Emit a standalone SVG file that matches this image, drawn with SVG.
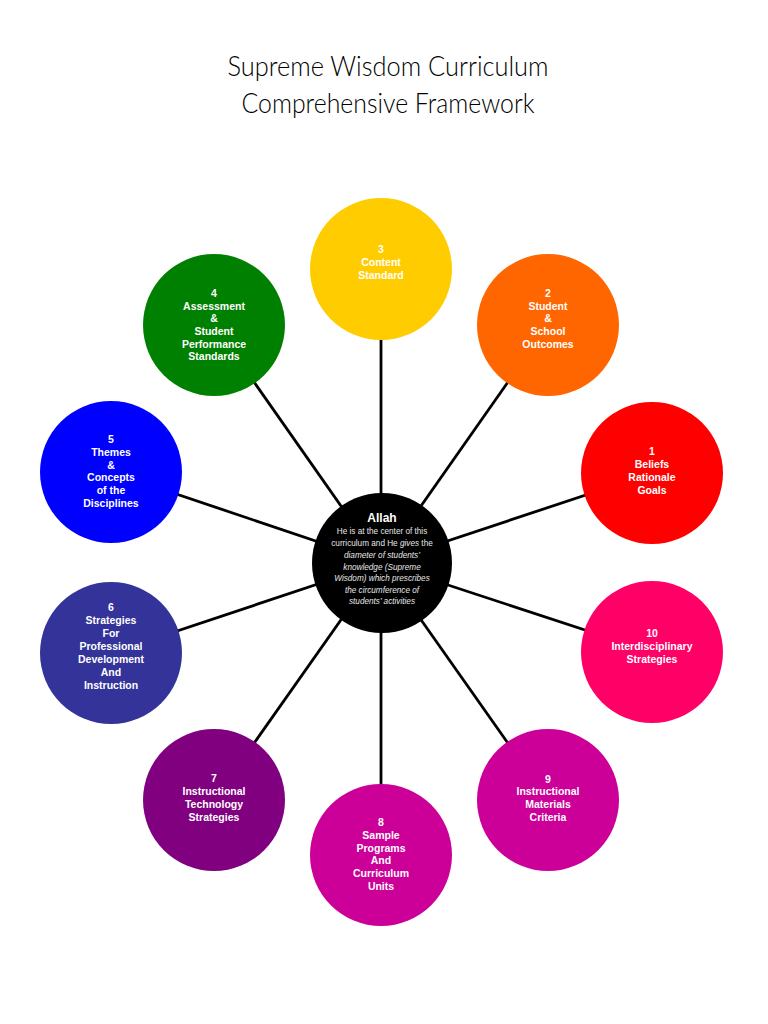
<svg xmlns="http://www.w3.org/2000/svg" width="768" height="1024" viewBox="0 0 768 1024">
<style>
.title{font-family:"Lato","Open Sans",sans-serif;font-weight:300;font-size:28px;fill:#000}
.n{font-family:"Liberation Sans Narrow","Liberation Sans",Arial,sans-serif;font-weight:bold;font-size:10.5px;fill:#fff;text-anchor:middle}
.c{font-family:"Liberation Sans",Arial,sans-serif;font-size:8.2px;fill:#e6e6e6;text-anchor:middle}
.ca{font-family:"Liberation Sans Narrow","Liberation Sans",Arial,sans-serif;font-weight:bold;font-size:12px;fill:#fff;text-anchor:middle}
.i{font-style:italic}
.conn line{stroke:#000;stroke-width:2.8}
</style>
<rect width="768" height="1024" fill="#fff"/>
<g id="title">
<text class="title" x="388" y="76" textLength="321" lengthAdjust="spacingAndGlyphs" text-anchor="middle">Supreme Wisdom Curriculum</text>
<text class="title" x="388" y="113" textLength="293" lengthAdjust="spacingAndGlyphs" text-anchor="middle">Comprehensive Framework</text>
</g>
<g class="conn" id="connectors">
<line x1="381" y1="563" x2="381" y2="269"/>
<line x1="381" y1="563" x2="548" y2="325"/>
<line x1="381" y1="563" x2="214" y2="325"/>
<line x1="381" y1="563" x2="652" y2="473"/>
<line x1="381" y1="563" x2="111" y2="472"/>
<line x1="381" y1="563" x2="652" y2="652"/>
<line x1="381" y1="563" x2="111" y2="653"/>
<line x1="381" y1="563" x2="548" y2="800"/>
<line x1="381" y1="563" x2="214" y2="800"/>
<line x1="381" y1="563" x2="381" y2="855"/>
</g>
<g id="n3"><circle cx="381" cy="269" r="71" fill="#FFCC00"/>
<text class="n"><tspan x="381" y="253">3</tspan><tspan x="381" y="266">Content</tspan><tspan x="381" y="279">Standard</tspan></text></g>
<g id="n2"><circle cx="548" cy="325" r="71" fill="#FF6600"/>
<text class="n"><tspan x="548" y="297">2</tspan><tspan x="548" y="310">Student</tspan><tspan x="548" y="322">&amp;</tspan><tspan x="548" y="335">School</tspan><tspan x="548" y="348">Outcomes</tspan></text></g>
<g id="n4"><circle cx="214" cy="325" r="71" fill="#008000"/>
<text class="n"><tspan x="214" y="297">4</tspan><tspan x="214" y="310">Assessment</tspan><tspan x="214" y="322">&amp;</tspan><tspan x="214" y="335">Student</tspan><tspan x="214" y="348">Performance</tspan><tspan x="214" y="360">Standards</tspan></text></g>
<g id="n1"><circle cx="652" cy="473" r="71" fill="#FF0000"/>
<text class="n"><tspan x="652" y="455">1</tspan><tspan x="652" y="468">Beliefs</tspan><tspan x="652" y="481">Rationale</tspan><tspan x="652" y="494">Goals</tspan></text></g>
<g id="n5"><circle cx="111" cy="472" r="71" fill="#0000FF"/>
<text class="n"><tspan x="111" y="443">5</tspan><tspan x="111" y="456">Themes</tspan><tspan x="111" y="469">&amp;</tspan><tspan x="111" y="481">Concepts</tspan><tspan x="111" y="494">of the</tspan><tspan x="111" y="507">Disciplines</tspan></text></g>
<g id="n10"><circle cx="652" cy="652" r="71" fill="#FF0066"/>
<text class="n"><tspan x="652" y="637">10</tspan><tspan x="652" y="650">Interdisciplinary</tspan><tspan x="652" y="663">Strategies</tspan></text></g>
<g id="n6"><circle cx="111" cy="653" r="71" fill="#333399"/>
<text class="n"><tspan x="111" y="611">6</tspan><tspan x="111" y="624">Strategies</tspan><tspan x="111" y="637">For</tspan><tspan x="111" y="650">Professional</tspan><tspan x="111" y="663">Development</tspan><tspan x="111" y="676">And</tspan><tspan x="111" y="689">Instruction</tspan></text></g>
<g id="n9"><circle cx="548" cy="800" r="71" fill="#CC0099"/>
<text class="n"><tspan x="548" y="783">9</tspan><tspan x="548" y="795">Instructional</tspan><tspan x="548" y="808">Materials</tspan><tspan x="548" y="821">Criteria</tspan></text></g>
<g id="n7"><circle cx="214" cy="800" r="71" fill="#800080"/>
<text class="n"><tspan x="214" y="782">7</tspan><tspan x="214" y="795">Instructional</tspan><tspan x="214" y="808">Technology</tspan><tspan x="214" y="821">Strategies</tspan></text></g>
<g id="n8"><circle cx="381" cy="855" r="71" fill="#CC0099"/>
<text class="n"><tspan x="381" y="826">8</tspan><tspan x="381" y="839">Sample</tspan><tspan x="381" y="852">Programs</tspan><tspan x="381" y="864">And</tspan><tspan x="381" y="877">Curriculum</tspan><tspan x="381" y="890">Units</tspan></text></g>
<g id="center"><circle cx="382" cy="563" r="70" fill="#000"/>
<text class="ca" x="382" y="522">Allah</text>
<text class="c"><tspan x="382" y="534">He is at the center of this</tspan><tspan x="382" y="546">curriculum and He <tspan class="i">gives</tspan> the</tspan><tspan class="i" x="382" y="558">diameter of students’</tspan><tspan class="i" x="382" y="570">knowledge (Supreme</tspan><tspan class="i" x="382" y="581">Wisdom) which prescribes</tspan><tspan class="i" x="382" y="593">the circumference of</tspan><tspan class="i" x="382" y="604">students’ activities</tspan></text></g>
</svg>
